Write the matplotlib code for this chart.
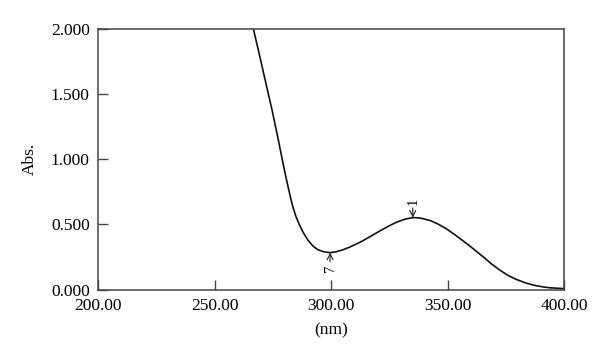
import matplotlib
matplotlib.use("Agg")
import matplotlib.pyplot as plt

# absorption spectrum
wavelength = [265.5, 266.7, 269.1, 272.4, 274.7, 277.4, 279.0, 280.5, 282.0, 283.3,
              284.8, 286.3, 288.0, 290.1, 292.3, 294.4, 297.0, 299.6, 302.1, 305.2,
              308.2, 312.4, 316.7, 321.0, 325.3, 328.2, 331.8, 335.1, 338.2, 342.5,
              345.9, 349.7, 353.2, 356.8, 360.9, 365.4, 368.7, 372.5, 376.0, 379.7,
              383.3, 386.8, 390.6, 394.0, 400.0]
absorbance = [2.09, 2.000, 1.816, 1.557, 1.378, 1.148, 1.005, 0.875, 0.755, 0.655,
              0.568, 0.502, 0.440, 0.379, 0.333, 0.305, 0.289, 0.283, 0.289, 0.305,
              0.327, 0.362, 0.405, 0.450, 0.492, 0.517, 0.540, 0.552, 0.549, 0.530,
              0.503, 0.464, 0.420, 0.372, 0.315, 0.250, 0.199, 0.148, 0.108, 0.076,
              0.052, 0.034, 0.021, 0.013, 0.007]

xticks = [200, 250, 300, 350, 400]
yticks = [0.0, 0.5, 1.0, 1.5, 2.0]

# peak / valley markers
peak_labels = ["1", "7"]
peak_x = [335.1, 299.6]
peak_y = [0.552, 0.283]

plt.rcParams['font.family'] = ['Liberation Serif', 'DejaVu Serif']

fig = plt.figure(figsize=(6, 3.62), dpi=100)
ax = fig.add_axes([98/600, 1-289.5/362, (564-98)/600, (289.5-29)/362])

ax.plot(wavelength, absorbance, color="#111111", lw=1.2)

ax.set_xlim(200, 400)
ax.set_ylim(0, 2.0)
ax.set_xticks(xticks)
ax.set_xticklabels(["%.2f" % v for v in xticks])
ax.set_yticks(yticks)
ax.set_yticklabels(["%.3f" % v for v in yticks])
ax.tick_params(direction="in", length=7, width=1, color="#444444",
               labelsize=12.5)
ax.tick_params(axis="x", pad=6)
ax.tick_params(axis="y", pad=6)
for s in ax.spines.values():
    s.set_color("#444444")
    s.set_linewidth(1.1)

ax.set_xlabel("(nm)", fontsize=12.5, labelpad=6)
ax.set_ylabel("Abs.", fontsize=12.5, labelpad=9)

# peak (arrow down) and valley (arrow up)
ax.annotate(peak_labels[0], xy=(peak_x[0], peak_y[0]), xytext=(0, 9),
            textcoords="offset points", rotation=90, ha="center", va="bottom",
            fontsize=10.5,
            arrowprops=dict(arrowstyle="->", color="#222222", lw=0.8,
                            shrinkA=0, shrinkB=0))
ax.annotate(peak_labels[1], xy=(peak_x[1], peak_y[1]), xytext=(0, -8.5),
            textcoords="offset points", rotation=90, ha="center", va="top",
            fontsize=10.5,
            arrowprops=dict(arrowstyle="->", color="#222222", lw=0.8,
                            shrinkA=0, shrinkB=0))

fig.savefig("out.png", dpi=100)
